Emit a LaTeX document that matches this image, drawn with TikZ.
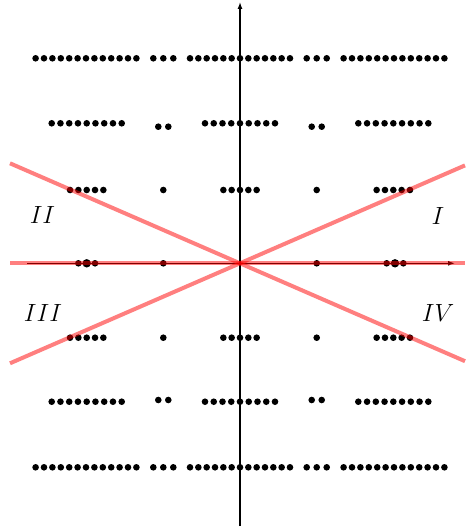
\documentclass[tikz,border=0pt]{standalone}
\usetikzlibrary{arrows.meta}
\newcommand{\dotgroup}[4]{% cx, y, n, spacing
  \foreach \k in {1,...,#3}{\fill ({#1+(\k-(#3+1)/2)*#4},#2) circle (3.3);}}
\begin{document}
\begin{tikzpicture}[x=1pt,y=-1pt,
  redline/.style={red,opacity=0.5,line width=4pt},
  axisline/.style={line width=1.3pt,-{Latex[length=7pt,width=5pt]}},
  lab/.style={font=\fontsize{23}{26}\selectfont,inner sep=0pt}]
\useasboundingbox (0,0) rectangle (465,529);
% rows of dots
\foreach \y/\py in {58.3/58.3,467.3/467.3}{
  \dotgroup{86}{\y}{13}{8.4}
  \dotgroup{163.3}{\py}{3}{10}
  \dotgroup{240}{\y}{13}{8.33}
  \dotgroup{316.7}{\py}{3}{10}
  \dotgroup{394}{\y}{13}{8.4}
}
\foreach \y/\py in {123.3/126.7,401.7/400}{
  \dotgroup{86.7}{\y}{9}{8.75}
  \dotgroup{163.3}{\py}{2}{10}
  \dotgroup{240}{\y}{9}{8.75}
  \dotgroup{316.7}{\py}{2}{10}
  \dotgroup{393.3}{\y}{9}{8.75}
}
\foreach \y in {190,337.7}{
  \dotgroup{86.7}{\y}{5}{8.33}
  \dotgroup{163.3}{\y}{1}{8.33}
  \dotgroup{240}{\y}{5}{8.33}
  \dotgroup{316.7}{\y}{1}{8.33}
  \dotgroup{393.3}{\y}{5}{8.33}
}
\dotgroup{86.7}{263.3}{3}{8.33}
\fill (86.7,263.3) circle (4.2);
\dotgroup{163.3}{263.3}{1}{8.33}
\dotgroup{316.7}{263.3}{1}{8.33}
\dotgroup{395}{263.3}{3}{8.33}
\fill (395,263.3) circle (4.2);
% axes
\coordinate (xs) at (27,263.3);
\coordinate (xe) at (455,263.3);
\coordinate (ys) at (240,526);
\coordinate (ye) at (240,2);
\draw[axisline] (xs) -- (xe);
\draw[axisline] (ys) -- (ye);
% red lines
\coordinate (hl) at (10,263.3);
\coordinate (hr) at (465,263.3);
\coordinate (d1a) at (10,163.3);
\coordinate (d1b) at (465,361.2);
\coordinate (d2a) at (10,363.3);
\coordinate (d2b) at (465,165.4);
\draw[redline] (hl) -- (hr);
\draw[redline] (d1a) -- (d1b);
\draw[redline] (d2a) -- (d2b);
% labels
\node[lab] (lI) at (438,216) {$I$};
\node[lab] (lII) at (42.5,215) {$II$};
\node[lab] (lIII) at (43,313) {$III$};
\node[lab] (lIV) at (438,313) {$IV$};
\end{tikzpicture}
\end{document}
